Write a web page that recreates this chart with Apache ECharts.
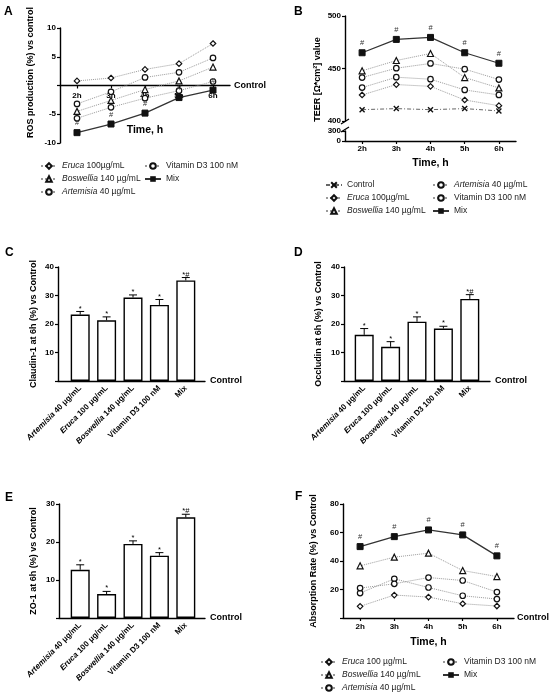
<!DOCTYPE html>
<html>
<head>
<meta charset="utf-8">
<script src="https://cdn.jsdelivr.net/npm/echarts@6.0.0/dist/echarts.min.js"></script>
<style>
html, body { margin: 0; padding: 0; background: #fff; }
#figure { width: 550px; height: 694px; }
</style>
</head>
<body>
<div id="figure"></div>
<script>
// time points (A, B, F) and treatments (C, D, E)
var hours = ['2h', '3h', '4h', '5h', '6h'];
var treatments = ['Artemisia 40 μg/mL', 'Eruca 100 μg/mL', 'Boswellia 140 μg/mL', 'Vitamin D3 100 nM', 'Mix'];

// A - ROS production (%) vs control
var rosEruca = [0.8, 1.3, 2.8, 3.8, 7.3];
var rosBoswellia = [-4.5, -2.6, -0.7, 0.8, 3.2];
var rosArtemisia = [-5.7, -3.8, -2.2, -0.9, 0.7];
var rosVitD3 = [-3.2, -1.1, 1.4, 2.3, 4.8];
var rosMix = [-8.2, -6.7, -4.8, -2.1, -0.8];

// B - TEER value
var teerControl = [410.8, 411.8, 410.8, 411.8, 409.6];
var teerEruca = [424.8, 434.7, 433.0, 420.0, 414.6];
var teerBoswellia = [447.8, 457.6, 464.3, 441.4, 431.5];
var teerArtemisia = [441.4, 450.3, 454.8, 449.4, 439.5];
var teerVitD3 = [431.8, 441.7, 439.8, 429.6, 424.8];
var teerMix = [465.0, 477.7, 479.6, 465.0, 455.0];

// C, D, E - tight junction proteins at 6h (mean, upper error)
var claudinMean = [23.3, 21.3, 29.3, 26.7, 35.3];
var claudinErr = [1.1, 1.2, 0.9, 1.9, 1.0];
var occludinMean = [16.2, 12.0, 20.8, 18.4, 28.8];
var occludinErr = [2.2, 1.8, 1.7, 0.8, 1.5];
var zo1Mean = [12.7, 6.3, 19.5, 16.4, 26.5];
var zo1Err = [1.3, 0.7, 0.8, 0.8, 0.8];
var sigMarks = ['*', '*', '*', '*', '*#'];

// F - absorption rate (%) vs control
var absEruca = [8.2, 16.1, 14.7, 10.0, 8.4];
var absBoswellia = [36.6, 42.7, 45.5, 33.3, 29.1];
var absArtemisia = [17.5, 27.5, 21.4, 15.6, 13.3];
var absVitD3 = [21.0, 24.0, 28.4, 26.3, 18.2];
var absMix = [50.1, 57.1, 61.8, 58.3, 43.6];

var FONT = '"Liberation Sans", Arial, sans-serif';
var crossSymbol = 'path://M0,0L10,10M10,0L0,10';

var chart = echarts.init(document.getElementById('figure'), null, { renderer: 'canvas' });

function italicGenus(name) {
    var m = name.match(/^(Eruca|Boswellia|Artemisia)(.*)$/);
    return m ? '{i|' + m[1] + '}' + m[2] : name;
}

function treatmentLine(name, data, symbol, axisIndex) {
    return {
        name: name, type: 'line', data: data,
        xAxisIndex: axisIndex, yAxisIndex: axisIndex,
        symbol: symbol, symbolSize: symbol === 'triangle' ? 6 : 5.5,
        lineStyle: { color: '#9a9a9a', width: 1, type: 'dotted' },
        itemStyle: { color: '#fff', borderColor: '#111', borderWidth: 1.2 },
        emphasis: { disabled: true }, z: 3
    };
}

function controlLine(data, axisIndex) {
    return {
        name: 'Control', type: 'line', data: data,
        xAxisIndex: axisIndex, yAxisIndex: axisIndex,
        symbol: crossSymbol, symbolSize: 5,
        lineStyle: { color: '#666', width: 1, type: [4, 2, 1, 2] },
        itemStyle: { color: '#fff', borderColor: '#111', borderWidth: 1.4 },
        emphasis: { disabled: true }, z: 3
    };
}

function mixLine(data, axisIndex) {
    return {
        name: 'Mix', type: 'line', data: data,
        xAxisIndex: axisIndex, yAxisIndex: axisIndex,
        symbol: 'rect', symbolSize: 6,
        lineStyle: { color: '#333', width: 1.3 },
        itemStyle: { color: '#111', borderColor: '#111' },
        label: { show: true, position: 'top', distance: 2, formatter: '#', fontSize: 7.5, color: '#333', fontFamily: FONT },
        emphasis: { disabled: true }, z: 4
    };
}

function bars(name, mean, axisIndex) {
    return {
        name: name, type: 'bar', data: mean,
        xAxisIndex: axisIndex, yAxisIndex: axisIndex,
        barWidth: 19,
        itemStyle: { color: '#fff', borderColor: '#000', borderWidth: 1.4 },
        emphasis: { disabled: true }, z: 2
    };
}

function errorBars(mean, err, marks, axisIndex) {
    return {
        type: 'custom',
        xAxisIndex: axisIndex, yAxisIndex: axisIndex,
        data: mean.map(function (m, i) { return [i, m, err[i]]; }),
        renderItem: function (params, api) {
            var base = api.coord([api.value(0), api.value(1)]);
            var top = api.coord([api.value(0), api.value(1) + api.value(2)]);
            return {
                type: 'group',
                children: [
                    { type: 'line', shape: { x1: base[0], y1: base[1], x2: top[0], y2: top[1] }, style: { stroke: '#000', lineWidth: 1 } },
                    { type: 'line', shape: { x1: top[0] - 4, y1: top[1], x2: top[0] + 4, y2: top[1] }, style: { stroke: '#000', lineWidth: 1 } },
                    { type: 'text', x: top[0], y: top[1] + 1, style: { text: marks[params.dataIndex], align: 'center', verticalAlign: 'bottom', fontSize: 7.5, fontFamily: FONT, fill: '#000' } }
                ]
            };
        },
        z: 5
    };
}

var tickLabel = { color: '#000', fontSize: 8, fontWeight: 'bold', fontFamily: FONT };
var axisLineBlack = { show: true, onZero: false, lineStyle: { color: '#000', width: 1.4 } };
var tickBlack = { show: true, length: 3, lineStyle: { color: '#000', width: 1.2 } };
var yName = { color: '#000', fontSize: 9, fontWeight: 'bold', fontFamily: FONT };
var timeName = { color: '#000', fontSize: 10.5, fontWeight: 'bold', fontFamily: FONT };

function hideZero(v) { return v === 0 ? '' : v; }

function hourAxis(gi, show, labelMargin, nameGap, offset) {
    return {
        type: 'category', gridIndex: gi, data: hours, show: show,
        boundaryGap: true, offset: offset || 0,
        axisLine: axisLineBlack,
        axisTick: { show: true, length: 3, alignWithLabel: true, lineStyle: { color: '#000', width: 1.2 } },
        axisLabel: Object.assign({ margin: labelMargin, interval: 0 }, tickLabel),
        name: 'Time, h', nameLocation: 'middle', nameGap: nameGap, nameTextStyle: timeName
    };
}

function valAxis(gi, min, max, interval, name, gap, padding, formatter) {
    return {
        type: 'value', gridIndex: gi, min: min, max: max, interval: interval,
        axisLine: axisLineBlack, axisTick: tickBlack,
        axisLabel: Object.assign({ margin: 4, formatter: formatter }, tickLabel),
        splitLine: { show: false },
        name: name, nameLocation: 'middle', nameGap: gap,
        nameTextStyle: Object.assign({ padding: padding || 0 }, yName)
    };
}

function treatmentAxis(gi) {
    return {
        type: 'category', gridIndex: gi, data: treatments,
        axisLine: { show: false }, axisTick: { show: false },
        axisLabel: {
            rotate: 45, interval: 0, margin: 6,
            color: '#000', fontSize: 8, fontWeight: 'bold', fontFamily: FONT,
            formatter: italicGenus,
            rich: { i: { fontStyle: 'italic', fontWeight: 'bold', fontSize: 8, fontFamily: FONT, color: '#000' } }
        }
    };
}

function frameAxis(gi) {
    return {
        type: 'value', gridIndex: gi, min: 0, max: 1,
        axisLine: axisLineBlack, axisTick: { show: false }, axisLabel: { show: false }, splitLine: { show: false },
        name: 'Control', nameLocation: 'end', nameGap: 5,
        nameTextStyle: { color: '#000', fontSize: 9, fontWeight: 'bold', fontFamily: FONT }
    };
}

function hiddenY(gi, max) {
    return { type: 'value', gridIndex: gi, min: 0, max: max, show: false, splitLine: { show: false } };
}

function legendBox(left, top, names) {
    return {
        orient: 'vertical', left: left, top: top, data: names,
        itemWidth: 16, itemHeight: 7, itemGap: 1, padding: 0,
        selectedMode: false,
        formatter: italicGenus,
        textStyle: {
            color: '#222', fontSize: 8.5, fontFamily: FONT, lineHeight: 12,
            rich: { i: { fontStyle: 'italic', fontSize: 8.5, fontFamily: FONT, color: '#222' } }
        }
    };
}

function letter(text, left, top) {
    return { text: text, left: left, top: top, padding: 0, textStyle: { fontSize: 12, fontWeight: 'bold', color: '#000', fontFamily: FONT } };
}

var gridA = { left: 60, top: 28, width: 170, height: 115 };
var gridF = { left: 343, top: 504, width: 171, height: 114 };
// A's x axis sits on y = 0, half way up the grid
var zeroShiftA = -gridA.height / 2;

var option = {
    backgroundColor: '#fff',
    animation: false,
    title: [
        letter('A', 4, 6), letter('B', 294, 6), letter('C', 5, 247),
        letter('D', 294, 247), letter('E', 5, 492), letter('F', 295, 491)
    ],
    grid: [
        gridA,                                          // 0 A
        { left: 345, top: 16, width: 171, height: 105 },  // 1 B upper
        { left: 345, top: 131, width: 171, height: 10 },  // 2 B lower
        { left: 67, top: 267, width: 132, height: 114 },  // 3 C bars
        { left: 58, top: 267, width: 147, height: 114 },  // 4 C frame
        { left: 351, top: 267, width: 132, height: 114 }, // 5 D bars
        { left: 344, top: 267, width: 146, height: 114 }, // 6 D frame
        { left: 67, top: 504, width: 132, height: 114 },  // 7 E bars
        { left: 59, top: 504, width: 146, height: 114 },  // 8 E frame
        gridF                                           // 9 F
    ],
    xAxis: [
        hourAxis(0, true, 6, 39, zeroShiftA),
        hourAxis(1, false, 4, 18),
        hourAxis(2, true, 4, 17),
        treatmentAxis(3), frameAxis(4),
        treatmentAxis(5), frameAxis(6),
        treatmentAxis(7), frameAxis(8),
        hourAxis(9, true, 5, 19)
    ],
    yAxis: [
        valAxis(0, -10, 10, 5, 'ROS production (%) vs control', 25, [0, 0, 0, 26], hideZero),
        valAxis(1, 400, 500, 50, 'TEER [Ω*cm²] value', 23, [0, 22, 0, 0]),
        valAxis(2, 0, 300, 300, '', 20),
        hiddenY(3, 40), valAxis(4, 0, 40, 10, 'Claudin-1 at 6h (%) vs Control', 20, 0, hideZero),
        hiddenY(5, 40), valAxis(6, 0, 40, 10, 'Occludin at 6h (%) vs Control', 21, 0, hideZero),
        hiddenY(7, 30), valAxis(8, 0, 30, 10, 'ZO-1 at 6h (%) vs Control', 21, 0, hideZero),
        valAxis(9, 0, 80, 20, 'Absorption Rate (%) vs Control', 25, 0, hideZero)
    ],
    legend: [
        legendBox(40, 160, ['Eruca 100µg/mL', 'Boswellia 140 µg/mL', 'Artemisia 40 µg/mL']),
        legendBox(144, 160, ['Vitamin D3 100 nM', 'Mix']),
        legendBox(325, 179, ['Control', 'Eruca 100µg/mL', 'Boswellia 140 µg/mL']),
        legendBox(432, 179, ['Artemisia 40 µg/mL', 'Vitamin D3 100 nM', 'Mix']),
        legendBox(320, 656, ['Eruca 100 µg/mL', 'Boswellia 140 µg/mL', 'Artemisia 40 µg/mL']),
        legendBox(442, 656, ['Vitamin D3 100 nM', 'Mix'])
    ],
    series: [
        // A
        treatmentLine('Eruca 100µg/mL', rosEruca, 'diamond', 0),
        treatmentLine('Boswellia 140 µg/mL', rosBoswellia, 'triangle', 0),
        treatmentLine('Artemisia 40 µg/mL', rosArtemisia, 'circle', 0),
        treatmentLine('Vitamin D3 100 nM', rosVitD3, 'circle', 0),
        mixLine(rosMix, 0),
        // B
        controlLine(teerControl, 1),
        treatmentLine('Eruca 100µg/mL', teerEruca, 'diamond', 1),
        treatmentLine('Boswellia 140 µg/mL', teerBoswellia, 'triangle', 1),
        treatmentLine('Artemisia 40 µg/mL', teerArtemisia, 'circle', 1),
        treatmentLine('Vitamin D3 100 nM', teerVitD3, 'circle', 1),
        mixLine(teerMix, 1),
        // C
        bars('Claudin-1', claudinMean, 3),
        errorBars(claudinMean, claudinErr, sigMarks, 3),
        // D
        bars('Occludin', occludinMean, 5),
        errorBars(occludinMean, occludinErr, sigMarks, 5),
        // E
        bars('ZO-1', zo1Mean, 7),
        errorBars(zo1Mean, zo1Err, sigMarks, 7),
        // F
        treatmentLine('Eruca 100 µg/mL', absEruca, 'diamond', 9),
        treatmentLine('Boswellia 140 µg/mL', absBoswellia, 'triangle', 9),
        treatmentLine('Artemisia 40 µg/mL', absArtemisia, 'circle', 9),
        treatmentLine('Vitamin D3 100 nM', absVitD3, 'circle', 9),
        mixLine(absMix, 9)
    ],
    graphic: [
        // "Control" at the end of the zero line in A and the x axis in F
        { type: 'text', x: gridA.left + gridA.width + 4, y: gridA.top + gridA.height / 2,
          style: { text: 'Control', fill: '#000', font: 'bold 9px ' + FONT, verticalAlign: 'middle' } },
        { type: 'text', x: gridF.left + gridF.width + 3, y: gridF.top + gridF.height,
          style: { text: 'Control', fill: '#000', font: 'bold 9px ' + FONT, verticalAlign: 'middle' } },
        // axis break marks in B
        { type: 'line', shape: { x1: 341, y1: 124, x2: 349, y2: 119 }, style: { stroke: '#000', lineWidth: 1.3 } },
        { type: 'line', shape: { x1: 341, y1: 132, x2: 349, y2: 127 }, style: { stroke: '#000', lineWidth: 1.3 } }
    ]
};

chart.setOption(option);
window.addEventListener('resize', function () {
    chart.resize();
});
</script>
</body>
</html>
